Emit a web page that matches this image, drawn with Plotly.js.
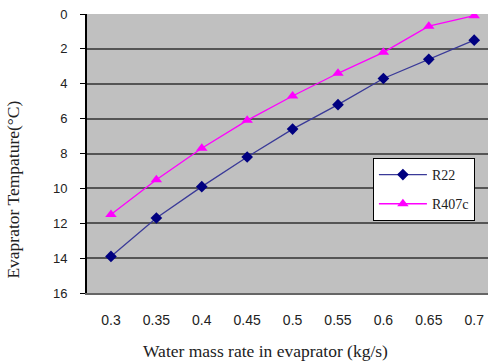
<!DOCTYPE html>
<html>
<head>
<meta charset="utf-8">
<script src="https://cdn.plot.ly/plotly-3.0.1.min.js"></script>
<style>html,body{margin:0;padding:0;background:#fff;overflow:hidden;}</style>
</head>
<body>
<div id="chart" style="width:488px;height:364px;"></div>
<script>
const massRate = [0.3, 0.35, 0.4, 0.45, 0.5, 0.55, 0.6, 0.65, 0.7];
const tempR22 = [13.9, 11.7, 9.9, 8.2, 6.6, 5.2, 3.7, 2.6, 1.5];
const tempR407c = [11.5, 9.5, 7.7, 6.1, 4.7, 3.4, 2.2, 0.7, 0.1];
const xTickLabels = ['0.3', '0.35', '0.4', '0.45', '0.5', '0.55', '0.6', '0.65', '0.7'];
const yTickVals = [0, 2, 4, 6, 8, 10, 12, 14, 16];
const xTitle = 'Water mass rate in evaprator (kg/s)';
const yTitle = 'Evaprator Tempature(°C)';

const traces = [
  {
    x: massRate, y: tempR22, name: 'R22', type: 'scatter', mode: 'lines+markers',
    legendgroup: 'a',
    line: {color: '#3a3a98', width: 1.3},
    marker: {symbol: 'diamond', size: 9, color: '#000080'}
  },
  {
    x: massRate, y: tempR407c, name: 'R407c', type: 'scatter', mode: 'lines+markers',
    legendgroup: 'b',
    line: {color: '#ff00ff', width: 1.3},
    marker: {symbol: 'triangle-up', size: 10, color: '#ff00ff'}
  }
];

const titleFont = {family: 'Liberation Serif, serif', size: 17.5, color: '#222'};

const layout = {
  width: 488, height: 364,
  margin: {l: 87, r: 0, t: 14, b: 71},
  paper_bgcolor: '#ffffff',
  plot_bgcolor: '#c0c0c0',
  showlegend: true,
  legend: {
    x: 0.713, y: 0.484, xanchor: 'left', yanchor: 'top',
    bgcolor: '#ffffff', bordercolor: '#000000', borderwidth: 1,
    font: {family: 'Liberation Serif, serif', size: 14, color: '#222'},
    traceorder: 'grouped', tracegroupgap: 8,
    itemwidth: 48, entrywidth: 100
  },
  xaxis: {
    range: [0.2736, 0.7152],
    tickvals: massRate, ticktext: xTickLabels,
    showgrid: false, zeroline: false,
    showline: true, linecolor: '#666', linewidth: 2,
    ticks: '', ticklabelstandoff: 13,
    tickfont: {family: 'Liberation Sans, Arial, sans-serif', size: 14, color: '#222'}
  },
  yaxis: {
    range: [16, 0],
    tickvals: yTickVals,
    showgrid: true, gridcolor: '#555', gridwidth: 2,
    zeroline: false,
    showline: true, linecolor: '#000', linewidth: 2,
    ticks: 'outside', ticklen: 5, tickcolor: '#000', tickwidth: 1,
    ticklabelstandoff: 10,
    tickfont: {family: 'Liberation Sans, Arial, sans-serif', size: 13, color: '#222'}
  },
  annotations: [
    {text: xTitle, xref: 'paper', yref: 'paper', x: 0.446, y: -0.208,
     xanchor: 'center', yanchor: 'middle', showarrow: false, font: titleFont},
    {text: yTitle, xref: 'paper', yref: 'paper', x: -0.185, y: 0.37,
     xanchor: 'center', yanchor: 'middle', textangle: -90, showarrow: false, font: titleFont}
  ]
};

Plotly.newPlot('chart', traces, layout, {displayModeBar: false, staticPlot: true});
</script>
</body>
</html>
